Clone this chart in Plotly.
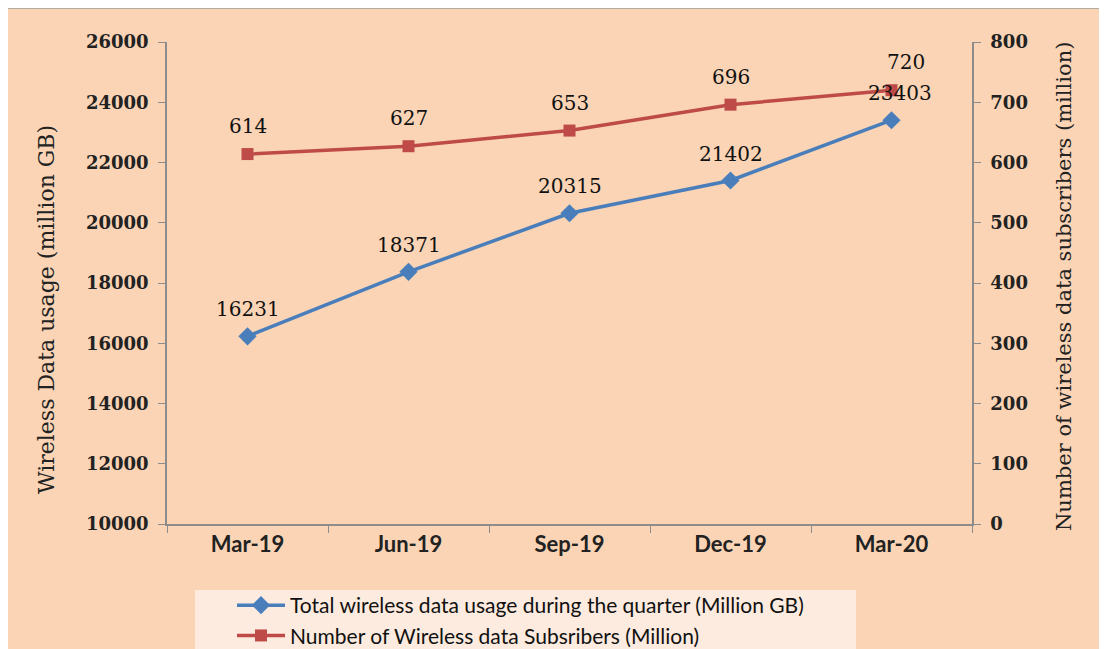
import plotly.graph_objects as go

quarters = ["Mar-19", "Jun-19", "Sep-19", "Dec-19", "Mar-20"]
usage = [16231, 18371, 20315, 21402, 23403]
subscribers = [614, 627, 653, 696, 720]
left_ticks = [10000, 12000, 14000, 16000, 18000, 20000, 22000, 24000, 26000]
right_ticks = [0, 100, 200, 300, 400, 500, 600, 700, 800]

BLUE = "#4A7EBB"
RED = "#BE4B48"
PEACH = "#FAD4B5"
W, H = 1107, 649
OFF = 8  # page body margin
# target plot area in screen pixels
SX0, SX1, SY0, SY1 = 167, 972, 42, 524
L, T = SX0 - OFF, SY0 - OFF
R, B = W - (SX1 - OFF), H - (SY1 - OFF)
PW, PH = SX1 - SX0, SY1 - SY0

def px(x):
    return (x - SX0) / PW

def py(y):
    return (SY1 - y) / PH

fig = go.Figure()
fig.add_trace(go.Scatter(
    x=quarters, y=usage, name="Total wireless data usage during the quarter (Million GB)",
    mode="lines+markers", line=dict(color=BLUE, width=3.5),
    marker=dict(symbol="diamond", size=14, color=BLUE), yaxis="y"))
fig.add_trace(go.Scatter(
    x=quarters, y=subscribers, name="Number of Wireless data Subsribers (Million)",
    mode="lines+markers", line=dict(color=RED, width=3.5),
    marker=dict(symbol="square", size=12, color=RED), yaxis="y2"))

label_font = dict(family="DejaVu Serif", size=20, color="#111111")
ann = []
for i, (q, v) in enumerate(zip(quarters, usage)):
    ann.append(dict(x=q, y=v, yref="y", text=str(v), showarrow=False, font=label_font,
                    yshift=27, xshift=(8 if i == len(quarters) - 1 else 0)))
for i, (q, v) in enumerate(zip(quarters, subscribers)):
    ann.append(dict(x=q, y=v, yref="y2", text=str(v), showarrow=False, font=label_font,
                    yshift=28, xshift=(14 if i == len(quarters) - 1 else 0)))

ann.append(dict(xref="paper", yref="paper", x=px(46), y=py(310), xanchor="center", yanchor="middle",
                text="Wireless Data usage (million GB)", textangle=-90, showarrow=False,
                font=dict(family="DejaVu Serif", size=22, color="#222222")))
ann.append(dict(xref="paper", yref="paper", x=px(1064), y=py(287), xanchor="center", yanchor="middle",
                text="Number of wireless data subscribers (million)", textangle=-90, showarrow=False,
                font=dict(family="DejaVu Serif", size=21, color="#222222")))

shapes = [
    dict(type="rect", xref="paper", yref="paper", x0=px(7), x1=px(1120), y0=py(670), y1=py(8),
         fillcolor=PEACH, line=dict(color="#9a9a9a", width=1.5), layer="below"),
    dict(type="rect", xref="paper", yref="paper", x0=px(195), x1=px(856), y0=py(670), y1=py(590),
         fillcolor="#FCEBDE", line=dict(width=0), layer="below"),
]

axis_tick_font = dict(family="DejaVu Serif", size=18, color="#222222", weight="bold")
fig.update_layout(
    width=W, height=H, margin=dict(l=L, r=R, t=T, b=B, autoexpand=False),
    paper_bgcolor="white", plot_bgcolor="white",
    showlegend=True,
    legend=dict(x=px(232), y=py(585), xanchor="left", yanchor="top", bgcolor="rgba(0,0,0,0)",
                itemwidth=48, tracegroupgap=0,
                font=dict(family="Lato", size=21, color="#111111")),
    xaxis=dict(type="category", range=[-0.5, 4.5], showline=True, linecolor="#8c8c8c", linewidth=1.5,
               ticks="outside", tickson="boundaries", ticklen=7, tickcolor="#8c8c8c",
               tickfont=dict(family="Lato", size=22, color="#222222", weight="bold"),
               showgrid=False, zeroline=False),
    yaxis=dict(range=[10000, 26000], tickvals=left_ticks, ticktext=[str(v) for v in left_ticks],
               showline=True, linecolor="#8c8c8c", linewidth=1.5,
               ticks="outside", ticklen=7, tickcolor="#8c8c8c", showgrid=False, zeroline=False,
               tickfont=axis_tick_font, ticklabelstandoff=6),
    yaxis2=dict(range=[0, 800], tickvals=right_ticks, ticktext=[str(v) for v in right_ticks],
                overlaying="y", side="right", showline=True,
                linecolor="#8c8c8c", linewidth=1.5, ticks="outside", ticklen=7, tickcolor="#8c8c8c",
                showgrid=False, zeroline=False, tickfont=axis_tick_font, ticklabelstandoff=6),
    annotations=ann, shapes=shapes,
)
fig.write_html("out.html")
